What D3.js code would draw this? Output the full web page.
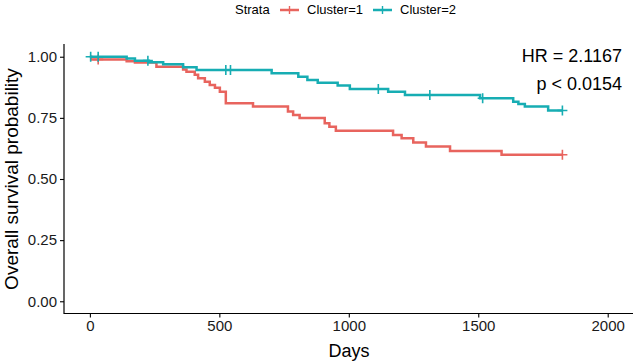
<!DOCTYPE html>
<html><head><meta charset="utf-8">
<script src="https://cdn.jsdelivr.net/npm/d3@7"></script>
<style>body{margin:0;background:#fff}svg{display:block;font-family:"Liberation Sans",Arial,sans-serif}</style>
</head><body>
<svg id="c" width="633" height="362"></svg>
<script>
// Data
const strata = ["Cluster=1", "Cluster=2"];
const colors = ["#E8645E", "#17ADB3"];
// step curves: [day, survival]
const cluster1 = [[0,1.0],[5,0.989],[142,0.982],[174,0.976],[257,0.959],[360,0.948],[373,0.939],[405,0.926],[418,0.912],[444,0.898],[463,0.884],[483,0.873],[502,0.857],[525,0.810],[630,0.796],[765,0.776],[785,0.762],[810,0.749],[907,0.728],[925,0.714],[950,0.697],[1171,0.680],[1204,0.667],[1249,0.649],[1298,0.633],[1391,0.615],[1590,0.599],[1825,0.599]];
const cluster2 = [[0,1.0],[142,0.993],[174,0.984],[228,0.977],[283,0.969],[360,0.957],[412,0.946],[702,0.932],[805,0.918],[840,0.905],[880,0.894],[957,0.882],[1004,0.868],[1152,0.857],[1217,0.844],[1507,0.830],[1635,0.816],[1655,0.807],[1680,0.796],[1770,0.780],[1825,0.780]];
const censor1 = [32, 1825];
const censor2 = [3, 32, 224, 525, 543, 1114, 1313, 1517, 1825];
const xTicks = [0, 500, 1000, 1500, 2000];
const yTicks = [0, 0.25, 0.5, 0.75, 1.0];
const hrText = "HR = 2.1167";
const pText = "p < 0.0154";

const svg = d3.select("#c");
const x = d3.scaleLinear().domain([-100, 2100]).range([64, 633.6]);
const y = d3.scaleLinear().domain([-0.05, 1.05]).range([313.5, 44.5]);

function survAt(curve, t){ let s = curve[0][1]; for (const [d,v] of curve){ if (d<=t) s=v; else break;} return s; }

const series = [cluster1, cluster2];
const censors = [censor1, censor2];
const line = d3.line().x(d=>x(d[0])).y(d=>y(d[1])).curve(d3.curveStepAfter);
series.forEach((s,i)=>{
  svg.append("path").attr("d", line(s)).attr("fill","none").attr("stroke",colors[i]).attr("stroke-width",2.5);
});
series.forEach((s,i)=>{
  censors[i].forEach(t=>{
    const cx = x(t), cy = y(survAt(s,t));
    svg.append("path").attr("d",`M${cx-5},${cy}H${cx+5}M${cx},${cy-5}V${cy+5}`).attr("stroke",colors[i]).attr("stroke-width",1.6);
  });
});

// axes
const xa = svg.append("g").attr("transform","translate(0,313.5)")
  .call(d3.axisBottom(x).tickValues(xTicks).tickSize(4).tickPadding(3).tickFormat(d3.format("d")));
const ya = svg.append("g").attr("transform","translate(64,0)")
  .call(d3.axisLeft(y).tickValues(yTicks).tickSize(4).tickPadding(3).tickFormat(d3.format(".2f")));
[xa,ya].forEach(a=>{
  a.select(".domain").remove();
  a.selectAll("line").attr("stroke","#000").attr("stroke-width",1.1);
  a.selectAll("text").attr("fill","#1a1a1a").style("font-size","15px").style("font-family","'Liberation Sans',Arial,sans-serif");
});
svg.append("line").attr("x1",64).attr("x2",633).attr("y1",313.5).attr("y2",313.5).attr("stroke","#000").attr("stroke-width",1.2);
svg.append("line").attr("x1",64).attr("x2",64).attr("y1",44).attr("y2",314).attr("stroke","#000").attr("stroke-width",1.2);

// titles
svg.append("text").attr("x",349).attr("y",357).attr("text-anchor","middle").style("font-size","18px").text("Days");
svg.append("text").attr("transform","translate(18,179) rotate(-90)").attr("text-anchor","middle").style("font-size","19px").text("Overall survival probability");

// annotations
svg.append("text").attr("x",622).attr("y",62).attr("text-anchor","end").style("font-size","18px").text(hrText);
svg.append("text").attr("x",622).attr("y",90).attr("text-anchor","end").style("font-size","18px").text(pText);

// legend
const lg = svg.append("g").style("font-size","13px");
lg.append("text").attr("x",235).attr("y",14).text("Strata");
const legX = [280, 373];
strata.forEach((s,i)=>{
  const lx = legX[i];
  lg.append("line").attr("x1",lx).attr("x2",lx+19).attr("y1",10).attr("y2",10).attr("stroke",colors[i]).attr("stroke-width",2.5);
  lg.append("path").attr("d",`M${lx+9.5},6V14`).attr("stroke",colors[i]).attr("stroke-width",1.4);
  lg.append("text").attr("x",lx+27).attr("y",14).text(s);
});
</script>
</body></html>
